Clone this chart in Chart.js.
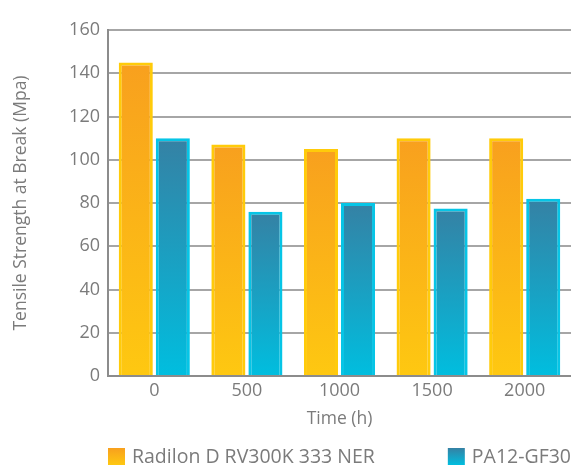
<!DOCTYPE html>
<html>
<head>
<meta charset="utf-8">
<script src="https://cdn.jsdelivr.net/npm/chart.js@4.4.1/dist/chart.umd.min.js"></script>
<style>
  html, body { margin: 0; padding: 0; background: #ffffff; }
  #wrap { width: 571px; height: 466px; }
</style>
</head>
<body>
<div id="wrap"><canvas id="c" width="571" height="466"></canvas></div>
<script>
const categories = ['0', '500', '1000', '1500', '2000'];
const radilon = [145, 107, 105, 110, 110];
const pa12 = [110, 76, 80, 77.5, 82];
const seriesNames = ['Radilon D RV300K 333 NER', 'PA12-GF30'];
const yTicks = [0, 20, 40, 60, 80, 100, 120, 140, 160];

const FONT = "'Open Sans', 'DejaVu Sans', sans-serif";
const TEXT = '#7b7b7b';

const palette = [
  { top: '#f8a01e', bottom: '#fec811', border: '#ffcb0a' },
  { top: '#3581a4', bottom: '#00bedf', border: '#06c5e6' }
];

// vertical gradient running from each bar's top down to the baseline
function barFill(pal) {
  return function (ctx) {
    const chart = ctx.chart;
    const y = chart.scales && chart.scales.y;
    if (!chart.chartArea || !y || ctx.raw === undefined) return pal.top;
    const top = y.getPixelForValue(ctx.raw);
    const base = y.getPixelForValue(0);
    const g = chart.ctx.createLinearGradient(0, top, 0, base);
    g.addColorStop(0, pal.top);
    g.addColorStop(1, pal.bottom);
    return g;
  };
}

// bottom legend: gradient swatches, first item at the plot's left edge,
// last item ending at its right edge
const spreadLegend = {
  id: 'spreadLegend',
  afterDraw(chart, args, opts) {
    const c = chart.ctx;
    const area = chart.chartArea;
    const box = opts.boxSize;
    const gap = opts.textGap;
    const top = chart.height - opts.bottomOffset - box;
    c.save();
    c.font = opts.fontSize + 'px ' + FONT;
    c.textBaseline = 'middle';
    c.textAlign = 'left';
    const items = chart.data.datasets.map((ds, i) => ({
      text: ds.label,
      pal: palette[i],
      w: box + gap + c.measureText(ds.label).width
    }));
    const used = items.reduce((s, it) => s + it.w, 0);
    const spacing = items.length > 1 ? (area.right - area.left - used) / (items.length - 1) : 0;
    let x = area.left;
    items.forEach(it => {
      const g = c.createLinearGradient(0, top, 0, top + box);
      g.addColorStop(0, it.pal.top);
      g.addColorStop(1, it.pal.bottom);
      c.fillStyle = g;
      c.fillRect(x, top, box, box);
      c.fillStyle = TEXT;
      c.fillText(it.text, x + box + gap, top + box / 2 + 1);
      x += it.w + spacing;
    });
    c.restore();
  }
};

new Chart(document.getElementById('c'), {
  type: 'bar',
  data: {
    labels: categories,
    datasets: [
      {
        label: seriesNames[0],
        data: radilon,
        backgroundColor: barFill(palette[0]),
        borderColor: palette[0].border,
        borderWidth: 3,
        categoryPercentage: 0.8,
        barPercentage: 0.92
      },
      {
        label: seriesNames[1],
        data: pa12,
        backgroundColor: barFill(palette[1]),
        borderColor: palette[1].border,
        borderWidth: 3,
        categoryPercentage: 0.8,
        barPercentage: 0.92
      }
    ]
  },
  options: {
    responsive: false,
    animation: false,
    devicePixelRatio: 1,
    layout: { padding: { top: 30, right: 0, left: 11, bottom: 32 } },
    plugins: {
      tooltip: { enabled: false },
      legend: { display: false },
      spreadLegend: { boxSize: 17, textGap: 7, fontSize: 19.5, bottomOffset: 1 }
    },
    scales: {
      x: {
        grid: { display: false, drawTicks: false },
        border: { display: true, color: '#8c8c8c', width: 2 },
        ticks: { color: TEXT, font: { family: FONT, size: 18 }, padding: 4 },
        title: {
          display: true,
          text: 'Time (h)',
          color: TEXT,
          font: { family: FONT, size: 17.5 },
          padding: { top: 4, bottom: 4 }
        },
        afterFit(scale) { scale.height = 58; }
      },
      y: {
        min: 0,
        max: 160,
        afterBuildTicks(scale) { scale.ticks = yTicks.map(v => ({ value: v })); },
        grid: { color: '#a6a6a6', lineWidth: 2, drawTicks: false },
        border: { display: true, color: '#8c8c8c', width: 2 },
        ticks: { color: TEXT, font: { family: FONT, size: 18 }, padding: 8, autoSkip: false },
        title: {
          display: true,
          text: 'Tensile Strength at Break (Mpa)',
          color: TEXT,
          font: { family: FONT, size: 17.5 },
          padding: { top: 0, bottom: 3 }
        },
        afterFit(scale) { scale.width = 97; }
      }
    }
  },
  plugins: [spreadLegend]
});
</script>
</body>
</html>
